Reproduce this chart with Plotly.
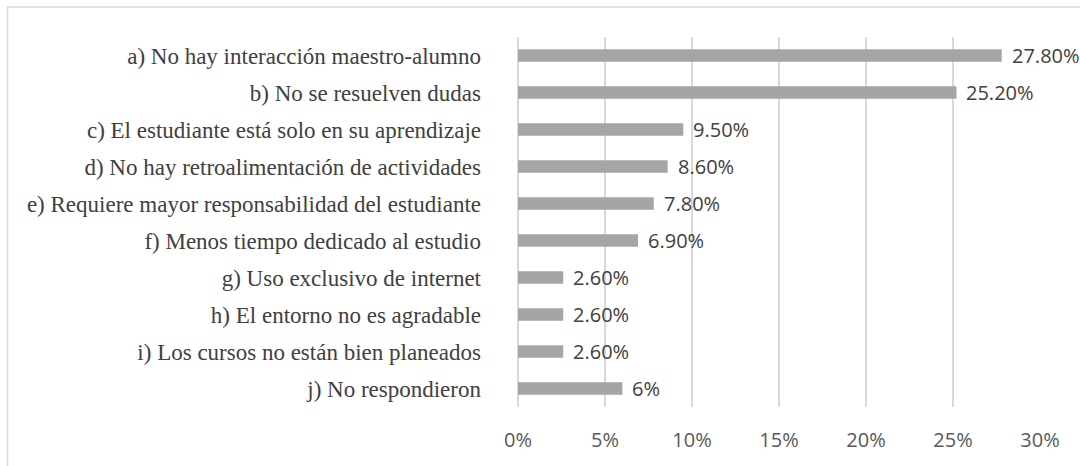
import plotly.graph_objects as go

# Motivos (categorias) y porcentajes
categorias = [
    "a) No hay interacción maestro-alumno",
    "b) No se resuelven dudas",
    "c) El estudiante está solo en su aprendizaje",
    "d) No hay retroalimentación de actividades",
    "e) Requiere mayor responsabilidad del estudiante",
    "f) Menos tiempo dedicado al estudio",
    "g) Uso exclusivo de internet",
    "h) El entorno no es agradable",
    "i) Los cursos no están bien planeados",
    "j) No respondieron",
]
porcentajes = [27.8, 25.2, 9.5, 8.6, 7.8, 6.9, 2.6, 2.6, 2.6, 6.0]
etiquetas = ["27.80%", "25.20%", "9.50%", "8.60%", "7.80%", "6.90%",
             "2.60%", "2.60%", "2.60%", "6%"]
ticks_x = [0, 5, 10, 15, 20, 25, 30]
ticks_txt = ["0%", "5%", "10%", "15%", "20%", "25%", "30%"]

SERIF = "Liberation Serif, Times New Roman, DejaVu Serif, serif"
SANS = "Open Sans, Liberation Sans, sans-serif"

fig = go.Figure()

fig.add_trace(go.Bar(
    x=porcentajes,
    y=categorias,
    orientation="h",
    marker=dict(color="#A5A5A5", line=dict(width=0)),
    width=0.34,
    hoverinfo="x+y",
))

# etiquetas de valor a la derecha de cada barra
for val, cat, txt in zip(porcentajes, categorias, etiquetas):
    fig.add_annotation(
        x=val, y=cat, text=txt,
        xanchor="left", yanchor="middle",
        xshift=8, showarrow=False,
        font=dict(family=SANS, size=20, color="#404040"),
    )

# marco del grafico
fig.add_shape(
    type="rect", xref="paper", yref="paper",
    x0=-0.978, x1=1.2, y0=-0.3, y1=1.081,
    line=dict(color="#D9D9D9", width=1.5),
    fillcolor="rgba(0,0,0,0)", layer="below",
)

fig.update_layout(
    width=1080,
    height=466,
    margin=dict(l=518, r=39.5, t=37, b=59, autoexpand=False),
    plot_bgcolor="white",
    paper_bgcolor="white",
    showlegend=False,
    xaxis=dict(
        range=[0, 30],
        tickvals=ticks_x,
        ticktext=ticks_txt,
        showgrid=True,
        gridcolor="#D9D9D9",
        gridwidth=1.5,
        zeroline=True,
        zerolinecolor="#D9D9D9",
        zerolinewidth=1.5,
        showline=False,
        ticklabelstandoff=19,
        tickfont=dict(family=SANS, size=20, color="#595959"),
        fixedrange=True,
        automargin=False,
    ),
    yaxis=dict(
        autorange="reversed",
        showgrid=False,
        showline=False,
        ticklabelstandoff=36,
        tickfont=dict(family=SERIF, size=23, color="#404040"),
        fixedrange=True,
        automargin=False,
    ),
)

fig.write_html("out.html", config={"displayModeBar": False},
               post_script="document.body.style.margin='0';")
